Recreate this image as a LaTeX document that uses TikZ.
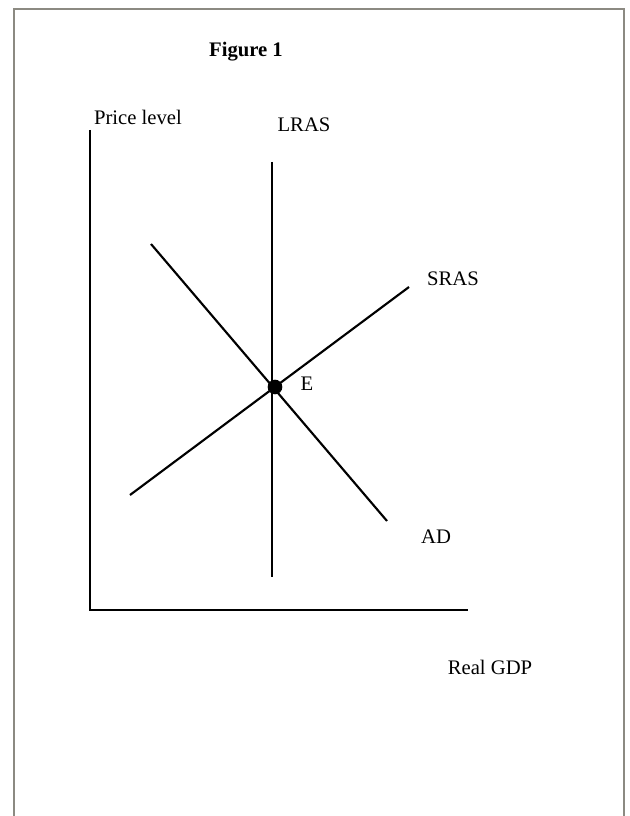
\documentclass[tikz,border=0pt]{standalone}
\usepackage{fontspec}
\setmainfont{Liberation Serif}
\definecolor{frame}{RGB}{140,138,130}
\tikzset{
  curve/.style={line width=1.6pt, black},
  lbl/.style={inner sep=0pt, font=\fontsize{15.5}{18}\selectfont},
}
\begin{document}
\begin{tikzpicture}[x=0.75pt, y=-0.75pt]
\useasboundingbox (0,0) rectangle (630,816);
\fill[white] (0,0) rectangle (630,816);
% page frame
\draw[frame, line width=2pt] (14,830) -- (14,9) -- (624,9) -- (624,830);
% title
\node[lbl, font=\fontsize{15.5}{18}\selectfont\bfseries] (title) at (246,52) {Figure 1};
% axes
\coordinate (ytop) at (90,130);
\coordinate (origin) at (90,610);
\coordinate (xend) at (468,610);
\draw[curve] (ytop) -- (origin) -- (xend);
% curves
\coordinate (lrasT) at (272,162);
\coordinate (lrasB) at (272,577);
\coordinate (srasA) at (130,495);
\coordinate (srasB) at (409,287);
\coordinate (adA) at (151,244);
\coordinate (adB) at (387,521);
\draw[curve] (lrasT) -- (lrasB);
\draw[curve] (srasA) -- (srasB);
\draw[curve] (adA) -- (adB);
\node[circle, fill=black, inner sep=0pt, minimum size=11pt] (E) at (275,387) {};
% labels
\node[lbl] (plab) at (138,117) {Price level};
\node[lbl] (lraslab) at (304,125) {LRAS};
\node[lbl] (srlab) at (453,279) {SRAS};
\node[lbl] (adlab) at (436,537) {AD};
\node[lbl] (elab) at (307,384) {E};
\node[lbl] (gdplab) at (490,667) {Real GDP};
\end{tikzpicture}
\end{document}
